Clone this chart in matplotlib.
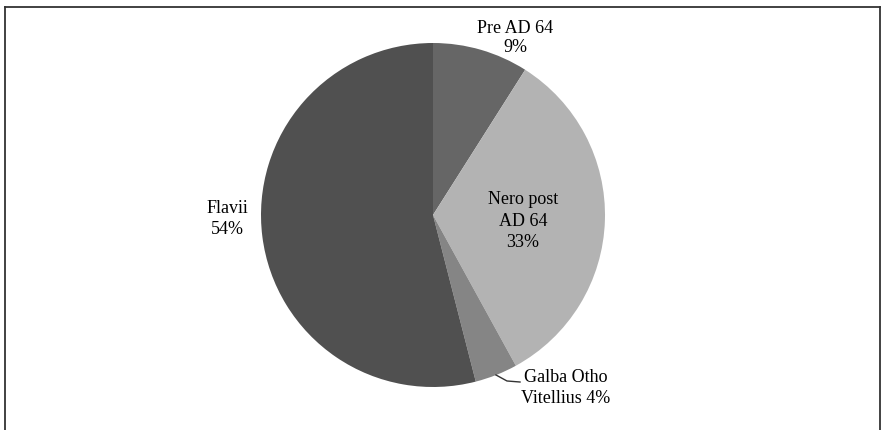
import matplotlib
matplotlib.use('Agg')
import matplotlib.pyplot as plt
from matplotlib.lines import Line2D

"""Data"""
names = ['Pre AD 64', 'Nero post\nAD 64', 'Galba Otho\nVitellius', 'Flavii']
shares = [9, 33, 4, 54]
colours = ['#666666', '#b3b3b3', '#858585', '#505050']

plt.rcParams['font.family'] = ['Liberation Serif', 'DejaVu Serif']
plt.rcParams['font.size'] = 13

W, H = 885, 430
fig = plt.figure(figsize=(W / 100, H / 100), dpi=100, facecolor='white')

# frame around the chart (bottom edge is cut off in the original)
for xs, ys in [([5, 5], [430, 7]), ([5, 880], [7, 7]), ([880, 880], [7, 430])]:
    fig.add_artist(Line2D([x / W for x in xs], [1 - y / H for y in ys],
                          color='#333333', linewidth=1.3))

# pie: centre (433, 215) px, radius 172 px
cx, cy, r = 433, 215, 172
ax = fig.add_axes([(cx - r) / W, (H - cy - r) / H, 2 * r / W, 2 * r / H])
ax.pie(shares, colors=colours, startangle=90, counterclock=False,
       radius=1, wedgeprops=dict(linewidth=0))
ax.set_xlim(-1, 1)
ax.set_ylim(-1, 1)
ax.set_aspect('equal')
ax.axis('off')

lbl = [f'{n}\n{s}%' for n, s in zip(names, shares)]
lbl[2] = f'{names[2]} {shares[2]}%'

txt = dict(ha='center', va='center', linespacing=1.32, clip_on=False)
ax.text(0.477, 1.03, lbl[0], ha='center', va='center', linespacing=1.2,
        clip_on=False)
ax.text(0.523, -0.035, lbl[1], **txt)
ax.text(0.773, -1.006, lbl[2], **txt)
ax.text(-1.198, -0.025, lbl[3], **txt)

# leader line for the small slice
ax.plot([0.366, 0.43, 0.506], [-0.930, -0.965, -0.971], color='#333333',
        linewidth=1, clip_on=False)

fig.savefig('out.png', dpi=100, facecolor='white')
